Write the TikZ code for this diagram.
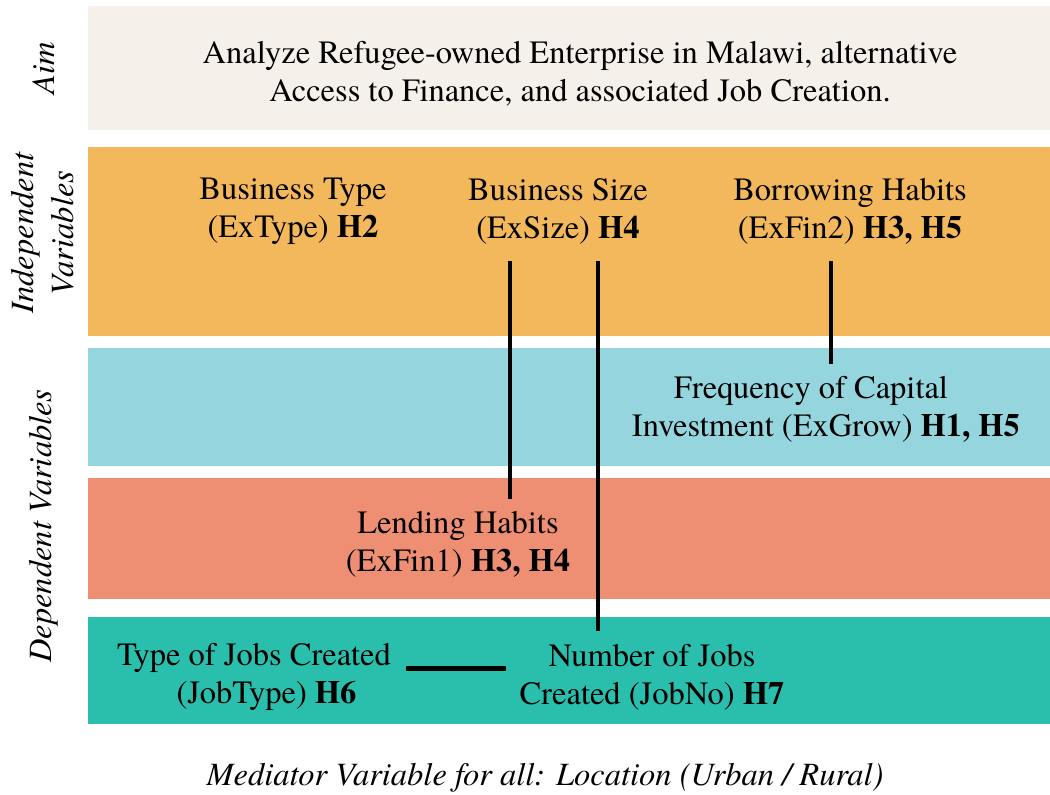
\documentclass[tikz,border=0pt]{standalone}
\usepackage{fontspec}
\setmainfont{TeX Gyre Termes}
\begin{document}
\begin{tikzpicture}[x=1pt,y=-1pt,
  band/.style={fill=#1,draw=none},
  txt/.style={inner sep=0pt,align=center,font=\fontsize{32.5}{38}\selectfont},
  side/.style={inner sep=0pt,align=center,rotate=90,font=\fontsize{32.5}{40}\selectfont\itshape},
  link/.style={line width=4.3pt,black}]
\definecolor{aimc}{HTML}{F5F0E9}
\definecolor{indc}{HTML}{F4B85C}
\definecolor{freqc}{HTML}{95D6DE}
\definecolor{lendc}{HTML}{EE8F73}
\definecolor{jobc}{HTML}{2ABEAD}
\useasboundingbox (0,0) rectangle (1050,795);

% coloured bands
\fill[band=aimc]  (88,6)   rectangle (1050,130);
\fill[band=indc]  (88,147) rectangle (1050,336);
\fill[band=freqc] (88,348) rectangle (1050,466);
\fill[band=lendc] (88,478) rectangle (1050,599);
\fill[band=jobc]  (88,617) rectangle (1050,724);

% side labels
\node[side] (laim) at (44,68) {Aim};
\node[side] (lind) at (43,233) {Independent\\Variables};
\node[side] (ldep) at (44,526) {Dependent Variables};

% aim
\node[txt] (aim) at (580,74) {Analyze Refugee-owned Enterprise in Malawi, alternative\\Access to Finance, and associated Job Creation.};

% independent variables
\node[txt] (btype) at (293,211) {Business Type\\(ExType) \textbf{H2}};
\node[txt] (bsize) at (558,211) {Business Size\\(ExSize) \textbf{H4}};
\node[txt] (bborrow) at (850,211) {Borrowing Habits\\(ExFin2) \textbf{H3, H5}};

% dependent variables
\node[txt] (freq) at (826,409) {Frequency of Capital\hspace*{30pt}\\Investment (ExGrow) \textbf{H1, H5}};
\node[txt] (lend) at (458,544) {Lending Habits\\(ExFin1) \textbf{H3, H4}};
\node[txt] (jtype) at (254,677) {Type of Jobs Created\\\hspace*{25pt}(JobType) \textbf{H6}};
\node[txt] (jno) at (652,677) {Number of Jobs\\Created (JobNo) \textbf{H7}};

% mediator
\node[txt,font=\fontsize{32.5}{38}\selectfont\itshape] (med) at (545,778) {Mediator Variable for all: Location (Urban / Rural)};

% connector columns
\coordinate (ka) at (510,0);
\coordinate (kb) at (598,0);
\coordinate (kc) at (831,0);

\draw[link] ([yshift=-17pt]bsize.south -| ka) -- ([yshift=12pt]lend.north -| ka);
\draw[link] ([yshift=-17pt]bsize.south -| kb) -- ([yshift=13pt]jno.north -| kb);
\draw[link] ([yshift=-17pt]bborrow.south -| kc) -- ([yshift=12pt]freq.north -| kc);
\draw[link] ([shift={(15pt,8.5pt)}]jtype.east) -- ([shift={(-13pt,8.5pt)}]jno.west);
\end{tikzpicture}
\end{document}
